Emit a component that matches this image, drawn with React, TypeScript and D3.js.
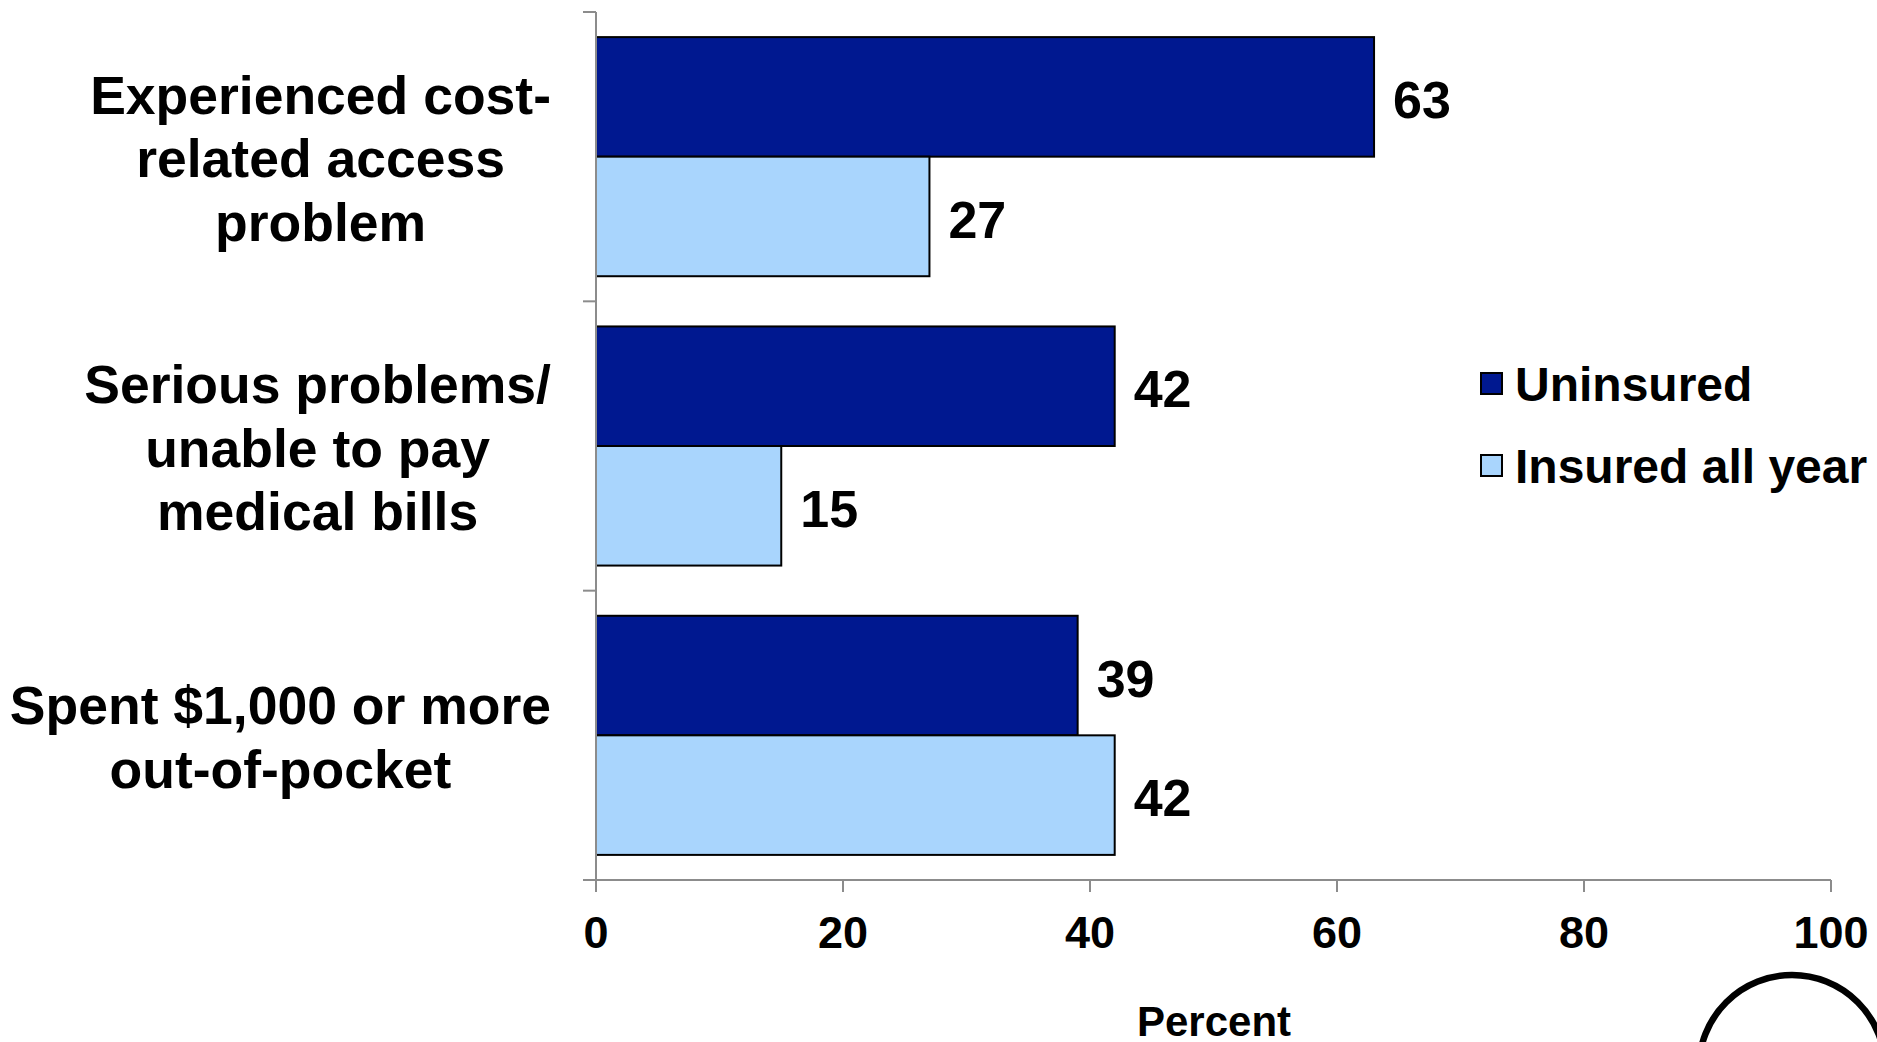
import React from "react";
import * as d3 from "d3";

const categories: string[][] = [
  ["Experienced cost-", "related access", "problem"],
  ["Serious problems/", "unable to pay", "medical bills"],
  ["Spent $1,000 or more", "out-of-pocket"],
];
const seriesNames = ["Uninsured", "Insured all year"];
const uninsured = [63, 42, 39];
const insured = [27, 15, 42];
const xTicks = [0, 20, 40, 60, 80, 100];
const seriesColors = ["#001890", "#A9D5FD"];

const W = 1877;
const H = 1042;
const FONT = "'Liberation Sans', Arial, Helvetica, sans-serif";

function measure(text: string, size: number): number {
  const c = document.createElement("canvas").getContext("2d");
  if (!c) return text.length * size * 0.55;
  c.font = `bold ${size}px ${FONT}`;
  return c.measureText(text).width;
}

export default function App() {
  const x = d3.scaleLinear().domain([0, 100]).range([596, 1831]);
  const ids = categories.map((_, i) => String(i));
  const y = d3.scaleBand().domain(ids).range([12, 880]).padding(0);
  const yInner = d3
    .scaleBand()
    .domain(seriesNames)
    .range([0, y.bandwidth()])
    .paddingInner(0)
    .paddingOuter(0.21);
  const values = [uninsured, insured];
  const axisColor = "#8c8c8c";
  const labelRight = 551;
  const labelSize = 53.5;
  const lineH = 63.5;

  return (
    <svg
      width={W}
      height={H}
      style={{ position: "absolute", left: 0, top: 0, background: "#fff" }}
      fontFamily={FONT}
      fontWeight="bold"
    >
      <rect x={0} y={0} width={W} height={H} fill="#fff" />
      {/* bars */}
      {categories.map((_, ci) =>
        seriesNames.map((s, si) => {
          const v = values[si][ci];
          const y0 = (y(String(ci)) as number) + (yInner(s) as number);
          const bh = yInner.bandwidth();
          return (
            <g key={`${ci}-${si}`}>
              <rect
                x={x(0)}
                y={y0}
                width={x(v) - x(0)}
                height={bh}
                fill={seriesColors[si]}
                stroke="#000"
                strokeWidth={2}
              />
              <text
                x={x(v) + 19}
                y={y0 + bh / 2 + 2.5}
                dy="0.36em"
                fontSize={52}
                fill="#000"
              >
                {v}
              </text>
            </g>
          );
        })
      )}
      {/* y axis */}
      <line x1={x(0)} x2={x(0)} y1={12} y2={880} stroke={axisColor} strokeWidth={2} />
      {[0, 1, 2, 3].map((i) => {
        const yy = i < 3 ? (y(String(i)) as number) : 880;
        return (
          <line key={i} x1={x(0) - 13} x2={x(0)} y1={yy} y2={yy} stroke={axisColor} strokeWidth={2} />
        );
      })}
      {/* x axis */}
      <line x1={x(0) - 13} x2={x(100)} y1={880} y2={880} stroke={axisColor} strokeWidth={2} />
      {xTicks.map((t) => (
        <g key={t}>
          <line x1={x(t)} x2={x(t)} y1={880} y2={892} stroke={axisColor} strokeWidth={2} />
          <text x={x(t)} y={948} textAnchor="middle" fontSize={45} fill="#000">
            {t}
          </text>
        </g>
      ))}
      <text x={1214} y={1036} textAnchor="middle" fontSize={42} fill="#000">
        Percent
      </text>
      {/* category labels */}
      {categories.map((lines, ci) => {
        const maxW = Math.max(...lines.map((l) => measure(l, labelSize)));
        const cx = labelRight - maxW / 2;
        const cy = (y(String(ci)) as number) + y.bandwidth() / 2;
        const top = cy - ((lines.length - 1) * lineH) / 2;
        return (
          <text key={ci} textAnchor="middle" fontSize={labelSize} fill="#000">
            {lines.map((l, li) => (
              <tspan key={li} x={cx} y={top + li * lineH + 1.5} dy="0.36em">
                {l}
              </tspan>
            ))}
          </text>
        );
      })}
      {/* legend */}
      {seriesNames.map((s, si) => {
        const cy = 384 + si * 82;
        return (
          <g key={s}>
            <rect x={1481} y={cy - 11} width={21} height={21} fill={seriesColors[si]} stroke="#000" strokeWidth={2} />
            <text x={1515} y={cy} dy="0.36em" fontSize={48} fill="#000">
              {s}
            </text>
          </g>
        );
      })}
      {/* decorative circle */}
      <circle cx={1792} cy={1068} r={93} fill="none" stroke="#000" strokeWidth={6.5} />
    </svg>
  );
}
